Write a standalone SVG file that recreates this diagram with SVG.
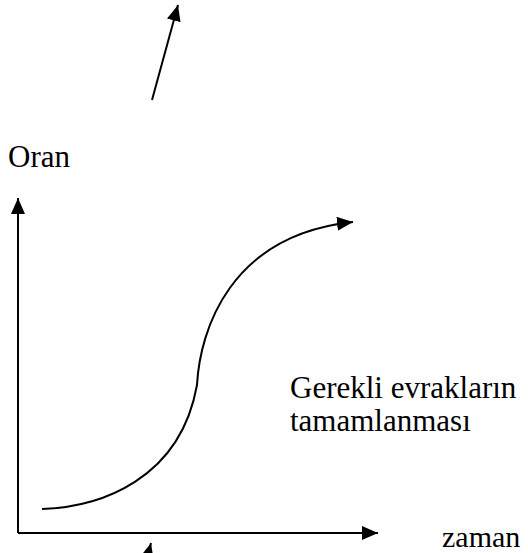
<svg xmlns="http://www.w3.org/2000/svg" width="528" height="553" viewBox="0 0 528 553">
<defs>
<marker id="ah" markerUnits="userSpaceOnUse" markerWidth="16" markerHeight="14" refX="16" refY="7" orient="auto" viewBox="0 0 16 14">
<path d="M0,0 L16,7 L0,14 z" fill="#000"/>
</marker>
<style>
.ln{fill:none;stroke:#000;stroke-width:2}
.t{font-family:"Liberation Serif","Times New Roman",serif;font-size:31px;fill:#000}
</style>
</defs>
<rect width="528" height="553" fill="#fff"/>
<g id="connectors">
<line class="ln" x1="152" y1="100" x2="178" y2="5" marker-end="url(#ah)"/>
<line class="ln" x1="18" y1="533" x2="18" y2="198" marker-end="url(#ah)"/>
<line class="ln" x1="18" y1="533" x2="378" y2="533" marker-end="url(#ah)"/>
<path class="ln" d="M42,509 C100,507 180,480 197,385 C200,330 230,235 353,222" marker-end="url(#ah)"/>
<line class="ln" x1="146" y1="562" x2="151" y2="543" marker-end="url(#ah)"/>
</g>
<g id="oran"><text class="t" x="8" y="167">Oran</text></g>
<g id="gerekli"><text class="t" x="290" y="398">Gerekli evrakların</text><text class="t" x="290" y="431">tamamlanması</text></g>
<g id="zaman"><text class="t" x="442" y="547" style="font-size:30px">zaman</text></g>
</svg>
